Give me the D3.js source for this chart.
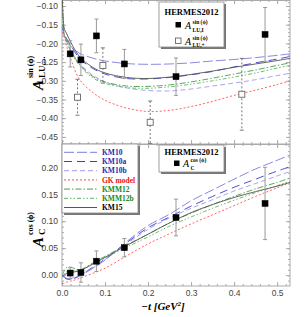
<!DOCTYPE html>
<html>
<head>
<meta charset="utf-8">
<script src="https://cdn.jsdelivr.net/npm/d3@7"></script>
<style>
  body { margin: 0; background: #fff; }
</style>
</head>
<body>
<script>
var tGrid = [0.001, 0.005, 0.01, 0.02, 0.04, 0.07, 0.1, 0.15, 0.2, 0.25, 0.3, 0.35, 0.4, 0.45, 0.5, 0.53];

// upper panel : A_LU sin(phi)
var luKM10   = [-0.160, -0.178, -0.190, -0.207, -0.226, -0.239, -0.247, -0.254, -0.256, -0.255, -0.252, -0.247, -0.243, -0.238, -0.232, -0.228];
var luKM10a  = [-0.150, -0.172, -0.186, -0.204, -0.239, -0.266, -0.282, -0.294, -0.295, -0.291, -0.284, -0.275, -0.263, -0.252, -0.242, -0.235];
var luKM10b  = [-0.170, -0.182, -0.194, -0.218, -0.252, -0.284, -0.303, -0.319, -0.326, -0.327, -0.322, -0.314, -0.306, -0.297, -0.286, -0.280];
var luGK     = [-0.170, -0.180, -0.205, -0.240, -0.295, -0.330, -0.352, -0.373, -0.382, -0.379, -0.369, -0.355, -0.339, -0.325, -0.310, -0.300];
var luKMM12  = [-0.090, -0.172, -0.191, -0.218, -0.255, -0.287, -0.303, -0.314, -0.315, -0.311, -0.303, -0.293, -0.282, -0.271, -0.259, -0.252];
var luKMM12b = [-0.150, -0.175, -0.195, -0.222, -0.258, -0.291, -0.307, -0.318, -0.320, -0.316, -0.309, -0.300, -0.290, -0.279, -0.266, -0.259];
var luKM15   = [-0.080, -0.159, -0.172, -0.196, -0.234, -0.263, -0.279, -0.291, -0.294, -0.290, -0.283, -0.274, -0.264, -0.255, -0.246, -0.240];

// lower panel : A_C cos(phi)
var cKM10   = [-0.002, -0.004, -0.007, -0.008, -0.002, 0.012, 0.028, 0.062, 0.092, 0.113, 0.138, 0.158, 0.178, 0.197, 0.213, 0.223];
var cKM10a  = [-0.001, -0.003, -0.006, -0.007, -0.001, 0.014, 0.030, 0.060, 0.088, 0.108, 0.128, 0.146, 0.163, 0.178, 0.193, 0.201];
var cKM10b  = [0.000, -0.003, -0.005, -0.006, 0.000, 0.013, 0.029, 0.058, 0.085, 0.106, 0.124, 0.140, 0.156, 0.170, 0.184, 0.192];
var cGK     = [-0.016, -0.015, -0.013, -0.011, -0.006, 0.003, 0.013, 0.036, 0.058, 0.077, 0.095, 0.112, 0.129, 0.146, 0.162, 0.172];
var cKMM12  = [0.000, 0.008, 0.014, 0.015, 0.010, 0.022, 0.035, 0.056, 0.076, 0.097, 0.115, 0.131, 0.146, 0.160, 0.172, 0.180];
var cKMM12b = [-0.002, 0.002, 0.006, 0.008, 0.008, 0.020, 0.032, 0.052, 0.071, 0.091, 0.108, 0.124, 0.139, 0.153, 0.166, 0.174];
var cKM15   = [-0.003, 0.000, 0.003, 0.005, 0.008, 0.020, 0.033, 0.055, 0.076, 0.097, 0.116, 0.131, 0.144, 0.155, 0.165, 0.172];

// HERMES 2012 data
var ptT      = [0.019, 0.044, 0.080, 0.145, 0.265, 0.472];
var luIVal   = [-0.228, -0.244, -0.180, -0.255, -0.289, -0.176];
var luIErr   = [0.035, 0.042, 0.045, 0.039, 0.050, 0.072];
var plusT    = [0.036, 0.095, 0.205, 0.418];
var luPVal   = [-0.344, -0.259, -0.411, -0.336];
var luPErr   = [0.048, 0.047, 0.057, 0.096];
var cVal     = [0.004, 0.005, 0.026, 0.051, 0.107, 0.133];
var cErr     = [0.010, 0.018, 0.019, 0.017, 0.034, 0.067];

var models = ["KM10", "KM10a", "KM10b", "GK model", "KMM12", "KMM12b", "KM15"];
var topCurves = [luKM10, luKM10a, luKM10b, luGK, luKMM12, luKMM12b, luKM15];
var botCurves = [cKM10, cKM10a, cKM10b, cGK, cKMM12, cKMM12b, cKM15];
var ticksTop = [-0.10, -0.15, -0.20, -0.25, -0.30, -0.35, -0.40, -0.45];
var ticksBot = [0.00, 0.05, 0.10, 0.15, 0.20];
var ticksX = [0.0, 0.1, 0.2, 0.3, 0.4, 0.5];

// styles, one per model
var lineColor = ["#7c7cdc", "#3c3cc8", "#9c9cec", "#ff5252", "#4a9e4a", "#62b462", "#555555"];
var lineDash  = ["10,3", "8,5", "5,3", "2,2", "6,2,1.5,2", "4,2,1.5,2,1.5,2", null];
var textColor = ["#2a2ab0", "#2a2ab0", "#2a2ab0", "#ee1111", "#228822", "#228822", "#000"];

var svg = d3.select("body").append("svg")
    .attr("width", 306)
    .attr("height", 317);

var x = d3.scaleLinear().domain([0, 0.53]).range([62, 290]);
var yTop = d3.scaleLinear().domain([-0.469, -0.084]).range([144, 0]);
var yBot = d3.scaleLinear().domain([-0.02, 0.2432]).range([286, 144]);

svg.append("clipPath").attr("id", "clipTop")
    .append("rect").attr("x", 62).attr("y", 0).attr("width", 228).attr("height", 144);
svg.append("clipPath").attr("id", "clipBot")
    .append("rect").attr("x", 62).attr("y", 144).attr("width", 228).attr("height", 142);

// ---------- frames and ticks ----------
function minorRange(a, b, step) {
    var out = [];
    for (var i = Math.round(a / step); i <= Math.round(b / step); i++) out.push(+(i * step).toFixed(4));
    return out;
}

function drawAxes(y, top, bottom, majors, minors, withX) {
    var fmtY = d3.format(".2f");
    // left, labelled
    var gl = svg.append("g").attr("transform", "translate(62,0)")
        .call(d3.axisLeft(y).tickValues(majors).tickSize(-4).tickPadding(4).tickFormat(fmtY));
    gl.append("g").call(d3.axisLeft(y).tickValues(minors).tickSize(-2).tickFormat(""));
    // right
    var gr = svg.append("g").attr("transform", "translate(290,0)")
        .call(d3.axisRight(y).tickValues(majors).tickSize(-4).tickFormat(""));
    gr.append("g").call(d3.axisRight(y).tickValues(minors).tickSize(-2).tickFormat(""));
    // top edge
    var gt = svg.append("g").attr("transform", "translate(0," + top + ")")
        .call(d3.axisTop(x).tickValues(ticksX).tickSize(-4).tickFormat(""));
    gt.append("g").call(d3.axisTop(x).tickValues(minorRange(0, 0.52, 0.02)).tickSize(-2).tickFormat(""));
    // bottom edge
    var gb = svg.append("g").attr("transform", "translate(0," + bottom + ")")
        .call(d3.axisBottom(x).tickValues(ticksX).tickSize(-4).tickPadding(4)
            .tickFormat(withX ? d3.format(".1f") : ""));
    gb.append("g").call(d3.axisBottom(x).tickValues(minorRange(0, 0.52, 0.02)).tickSize(-2).tickFormat(""));

    svg.selectAll(".domain").remove();
    svg.selectAll(".tick line").attr("stroke", "#aaa");
    svg.selectAll(".tick text")
        .attr("font-family", "Liberation Sans, Arial, sans-serif")
        .attr("font-size", 8.5)
        .attr("fill", "#444");

    svg.append("rect")
        .attr("x", 62).attr("y", top + 0.5)
        .attr("width", 228).attr("height", bottom - top - 0.5)
        .attr("fill", "none").attr("stroke", "#aaa").attr("stroke-width", 1);
}

drawAxes(yTop, 0, 144, ticksTop, minorRange(-0.46, -0.09, 0.01), false);
drawAxes(yBot, 144, 286, ticksBot, minorRange(-0.01, 0.24, 0.01), true);

// ---------- model curves ----------
function drawCurves(curves, y, clip) {
    var line = d3.line()
        .x(function (d, i) { return x(tGrid[i]); })
        .y(function (d) { return y(d); })
        .curve(d3.curveCatmullRom.alpha(0.5));
    var g = svg.append("g").attr("clip-path", "url(#" + clip + ")");
    curves.forEach(function (c, k) {
        g.append("path")
            .attr("d", line(c))
            .attr("fill", "none")
            .attr("stroke", lineColor[k])
            .attr("stroke-width", 0.9)
            .attr("stroke-dasharray", lineDash[k]);
    });
}

drawCurves(topCurves, yTop, "clipTop");
drawCurves(botCurves, yBot, "clipBot");

// ---------- data points ----------
function drawPoints(ts, vals, errs, y, clip, open) {
    var g = svg.append("g").attr("clip-path", "url(#" + clip + ")");
    var pts = ts.map(function (t, i) { return { t: t, v: vals[i], e: errs[i] }; });
    var col = open ? "#777" : "#999";
    g.selectAll("line.bar").data(pts).enter().append("line")
        .attr("x1", function (d) { return x(d.t); })
        .attr("x2", function (d) { return x(d.t); })
        .attr("y1", function (d) { return y(d.v + d.e); })
        .attr("y2", function (d) { return y(d.v - d.e); })
        .attr("stroke", col).attr("stroke-width", 1)
        .attr("stroke-dasharray", open ? "2,2" : null);
    [1, -1].forEach(function (s) {
        g.selectAll(null).data(pts).enter().append("line")
            .attr("x1", function (d) { return x(d.t) - 2; })
            .attr("x2", function (d) { return x(d.t) + 2; })
            .attr("y1", function (d) { return y(d.v + s * d.e); })
            .attr("y2", function (d) { return y(d.v + s * d.e); })
            .attr("stroke", col).attr("stroke-width", 1);
    });
    g.selectAll("rect.pt").data(pts).enter().append("rect")
        .attr("x", function (d) { return x(d.t) - 3; })
        .attr("y", function (d) { return y(d.v) - 3; })
        .attr("width", 6).attr("height", 6)
        .attr("fill", open ? "#fff" : "#000")
        .attr("stroke", open ? "#666" : "#000")
        .attr("stroke-width", open ? 0.9 : 0.5);
}

drawPoints(plusT, luPVal, luPErr, yTop, "clipTop", true);
drawPoints(ptT, luIVal, luIErr, yTop, "clipTop", false);
drawPoints(ptT, cVal, cErr, yBot, "clipBot", false);

// ---------- legends ----------
var serif = "Liberation Serif, Times New Roman, serif";

function legendBox(x0, y0, w, h) {
    svg.append("rect").attr("x", x0 + 2).attr("y", y0 + 2).attr("width", w).attr("height", h)
        .attr("fill", "#777");
    svg.append("rect").attr("x", x0).attr("y", y0).attr("width", w).attr("height", h)
        .attr("fill", "#fff").attr("stroke", "#888").attr("stroke-width", 0.8);
}

function asymLabel(x0, yb, sup, sub) {
    svg.append("text").attr("x", x0).attr("y", yb)
        .attr("font-family", serif).attr("font-style", "italic").attr("font-size", 10)
        .attr("fill", "#000").text("A");
    svg.append("text").attr("x", x0 + 7.5).attr("y", yb - 5)
        .attr("font-family", serif).attr("font-weight", "bold").attr("font-size", 5.5)
        .attr("fill", "#000").text(sup);
    svg.append("text").attr("x", x0 + 7.5).attr("y", yb + 2.5)
        .attr("font-family", serif).attr("font-weight", "bold").attr("font-size", 5.5)
        .attr("fill", "#000").text(sub);
}

// upper HERMES legend
legendBox(159, 2, 65, 45);
svg.append("text").attr("x", 191.5).attr("y", 15)
    .attr("text-anchor", "middle").attr("font-family", serif).attr("font-weight", "bold")
    .attr("font-size", 8.5).text("HERMES2012");
svg.append("rect").attr("x", 175.5).attr("y", 22).attr("width", 5.5).attr("height", 5.5).attr("fill", "#000");
asymLabel(185, 29, "sin (\u03d5)", "LU,I");
svg.append("rect").attr("x", 175.5).attr("y", 38).attr("width", 5.5).attr("height", 5.5)
    .attr("fill", "#fff").attr("stroke", "#555").attr("stroke-width", 0.8);
asymLabel(185, 44.5, "sin (\u03d5)", "LU,+");

// lower HERMES legend
legendBox(159, 145, 65, 27);
svg.append("text").attr("x", 191.5).attr("y", 155)
    .attr("text-anchor", "middle").attr("font-family", serif).attr("font-weight", "bold")
    .attr("font-size", 8.5).text("HERMES2012");
svg.append("rect").attr("x", 174).attr("y", 160.5).attr("width", 5.5).attr("height", 5.5).attr("fill", "#000");
asymLabel(183, 167, "cos (\u03d5)", "C");

// model legend
legendBox(62, 144, 76, 69);
models.forEach(function (m, k) {
    var yy = 152.3 + k * 9.2;
    svg.append("line").attr("x1", 64).attr("x2", 97).attr("y1", yy).attr("y2", yy)
        .attr("stroke", lineColor[k]).attr("stroke-width", 1)
        .attr("stroke-dasharray", lineDash[k]);
    svg.append("text").attr("x", 102).attr("y", yy + 2.7)
        .attr("font-family", serif).attr("font-weight", "bold").attr("font-size", 7.5)
        .attr("fill", textColor[k]).text(m);
});

// ---------- axis titles ----------
function yTitle(tx, ty, sup, sub) {
    var g = svg.append("g").attr("transform", "translate(" + tx + "," + ty + ") rotate(-90)");
    g.append("text").attr("x", 0).attr("y", 0)
        .attr("font-family", serif).attr("font-style", "italic").attr("font-weight", "bold")
        .attr("font-size", 15).text("A");
    g.append("text").attr("x", 12).attr("y", -10)
        .attr("font-family", serif).attr("font-weight", "bold").attr("font-size", 8).text(sup);
    g.append("text").attr("x", 12).attr("y", 2)
        .attr("font-family", serif).attr("font-weight", "bold").attr("font-size", 9).text(sub);
}
yTitle(43, 90, "sin (\u03d5)", "LU,...");
yTitle(43, 247, "cos (\u03d5)", "C");

var xt = svg.append("text").attr("x", 163).attr("y", 310)
    .attr("text-anchor", "middle").attr("font-family", serif).attr("font-style", "italic")
    .attr("font-weight", "bold").attr("font-size", 11);
xt.append("tspan").text("\u2212t [GeV");
xt.append("tspan").attr("dy", -4).attr("font-size", 7).text("2");
xt.append("tspan").attr("dy", 4).text("]");
</script>
</body>
</html>
